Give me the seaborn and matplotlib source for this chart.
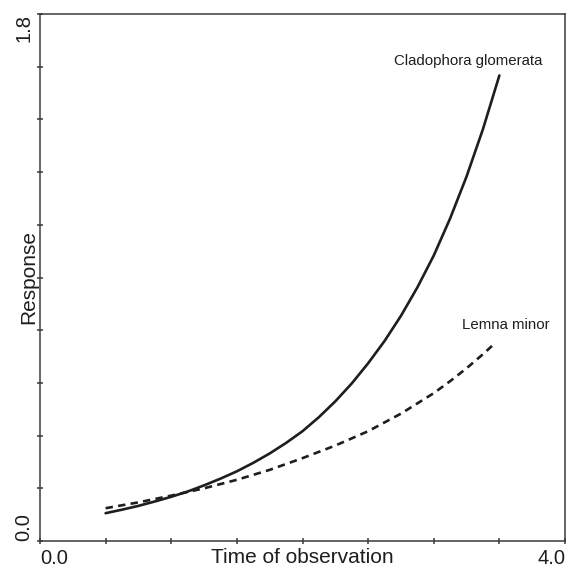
import numpy as np
import pandas as pd
import matplotlib
matplotlib.use("Agg")
import matplotlib.pyplot as plt
import seaborn as sns

# Fitted responses of the two species over the observation period
time_clad = [0.5, 0.625, 0.75, 0.875, 1.0, 1.125, 1.25, 1.375, 1.5, 1.625, 1.75, 1.875,
             2.0, 2.125, 2.25, 2.375, 2.5, 2.625, 2.75, 2.875, 3.0, 3.125, 3.25, 3.375, 3.5]
resp_clad = [0.095, 0.107, 0.120, 0.135, 0.151, 0.169, 0.190, 0.213, 0.238, 0.267, 0.299, 0.335,
             0.375, 0.423, 0.477, 0.538, 0.607, 0.683, 0.769, 0.866, 0.975, 1.102, 1.245, 1.407, 1.59]

time_lemna = [0.5, 0.75, 1.0, 1.25, 1.5, 1.75, 2.0, 2.25, 2.5, 2.75, 3.0, 3.125, 3.25, 3.375, 3.47]
resp_lemna = [0.112, 0.132, 0.155, 0.180, 0.209, 0.243, 0.283, 0.326, 0.375, 0.435, 0.505,
              0.546, 0.590, 0.638, 0.677]

species = ["Cladophora glomerata", "Lemna minor"]

x_ticks = [0.0, 0.5, 1.0, 1.5, 2.0, 2.5, 3.0, 3.5, 4.0]
x_ticklabels = ["0.0", "", "", "", "", "", "", "", "4.0"]
y_ticks = [0.0, 0.18, 0.36, 0.54, 0.72, 0.90, 1.08, 1.26, 1.44, 1.62, 1.8]
y_ticklabels = ["0.0", "", "", "", "", "", "", "", "", "", "1.8"]

df = pd.concat([
    pd.DataFrame({"time": time_clad, "response": resp_clad, "species": species[0]}),
    pd.DataFrame({"time": time_lemna, "response": resp_lemna, "species": species[1]}),
], ignore_index=True)

sns.set_style("ticks")
plt.rcParams["font.family"] = ["Liberation Sans", "DejaVu Sans"]

ink = "#1e1e1e"
axis_col = "#3a3a3a"

fig = plt.figure(figsize=(5.66, 5.68), dpi=100)
ax = fig.add_axes([40 / 566, 27 / 568, 525 / 566, 527 / 568])

sns.lineplot(
    data=df, x="time", y="response", style="species",
    dashes={species[0]: "", species[1]: (2.8, 2.0)},
    color=ink, linewidth=1.9, legend=False, ax=ax, sort=False,
)

ax.set_xlim(0, 4.0)
ax.set_ylim(0, 1.8)
ax.set_xticks(x_ticks)
ax.set_xticklabels(x_ticklabels)
ax.set_yticks(y_ticks)
ax.set_yticklabels(y_ticklabels, rotation=90)

xl = ax.get_xticklabels()
xl[0].set_ha("left")
xl[-1].set_ha("right")
yl = ax.get_yticklabels()
yl[0].set_va("bottom")
yl[-1].set_va("top")

ax.tick_params(axis="both", direction="inout", length=5, width=1.1,
               color=axis_col, labelsize=14.5, labelcolor=ink, pad=3)
ax.tick_params(axis="y", pad=2)

for side in ["left", "right", "top", "bottom"]:
    ax.spines[side].set_visible(True)
    ax.spines[side].set_color(axis_col)
    ax.spines[side].set_linewidth(1.1)

ax.set_xlabel("Time of observation", fontsize=15, color=ink, labelpad=-14)
ax.set_ylabel("Response", fontsize=15, color=ink, labelpad=-17)

ax.text(3.83, 1.64, species[0], ha="right", va="center", fontsize=10.8, color=ink)
ax.text(3.88, 0.738, species[1], ha="right", va="center", fontsize=10.8, color=ink)

fig.savefig("out.png", dpi=100, facecolor="white")
